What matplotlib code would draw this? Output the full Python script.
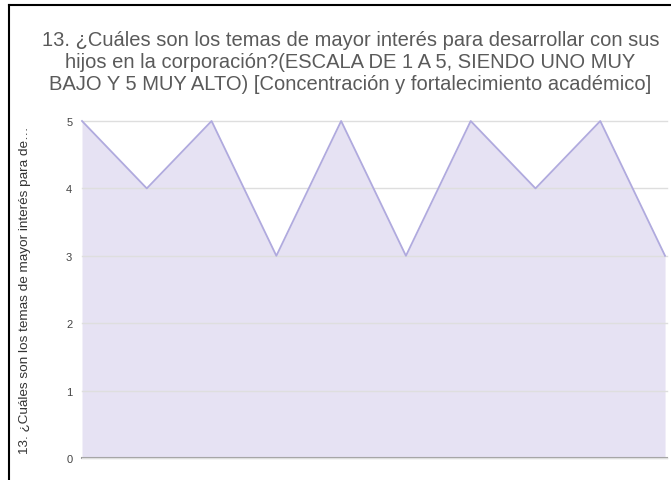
import matplotlib.pyplot as plt

plt.rcParams['font.family'] = ['Liberation Sans', 'DejaVu Sans']

# respuestas (escala 1 a 5)
respuestas = [5, 4, 5, 3, 5, 3, 5, 4, 5, 3]
posiciones = list(range(len(respuestas)))
y_ticks = [0, 1, 2, 3, 4, 5]

titulo = ("13. ¿Cuáles son los temas de mayor interés para desarrollar con sus\n"
          "hijos en la corporación?(ESCALA DE 1 A 5, SIENDO UNO MUY\n"
          "BAJO Y 5 MUY ALTO) [Concentración y fortalecimiento académico]")
ylabel = "13. ¿Cuáles son los temas de mayor interés para de…"

fig = plt.figure(figsize=(6.71, 4.81), dpi=100)

# black frame (left and top only are visible in the screenshot)
fig.add_artist(plt.Line2D([8.5 / 671, 8.5 / 671], [0, 1 - 5.5 / 481], color='black', lw=1.5))
fig.add_artist(plt.Line2D([8.5 / 671, 1], [1 - 5.5 / 481, 1 - 5.5 / 481], color='black', lw=1.5))

ax = fig.add_axes([82 / 671, 1 - 459 / 481, (667 - 82) / 671, (459 - 122) / 481])

ax.fill_between(posiciones, respuestas, 0, color='#e6e2f3', lw=0, zorder=1)
ax.plot(posiciones, respuestas, color='#b0aade', lw=1.3, zorder=3, clip_on=False)

ax.set_xlim(0, 9.03)
ax.set_ylim(0, 5)
ax.set_yticks(y_ticks)
ax.set_xticks([])
ax.yaxis.grid(True, color='#dedede', lw=1, zorder=2)
ax.set_axisbelow(False)
for g in ax.get_ygridlines():
    g.set_clip_on(False)
    g.set_zorder(2)

for s in ['top', 'right', 'left']:
    ax.spines[s].set_visible(False)
ax.spines['bottom'].set_color('#999999')
ax.spines['bottom'].set_linewidth(1.5)
ax.tick_params(axis='y', length=0, labelsize=8, labelcolor='#444444', pad=7)

ax.set_ylabel(ylabel, fontsize=9.7, color='#333333')
ax.yaxis.set_label_coords(-0.088, 0.5)

fig.text(0.522, 1 - 62 / 481, titulo, ha='center', va='center', fontsize=14.5,
         color='#5a5a5a', linespacing=1.2)

fig.savefig('out.png', dpi=100)
